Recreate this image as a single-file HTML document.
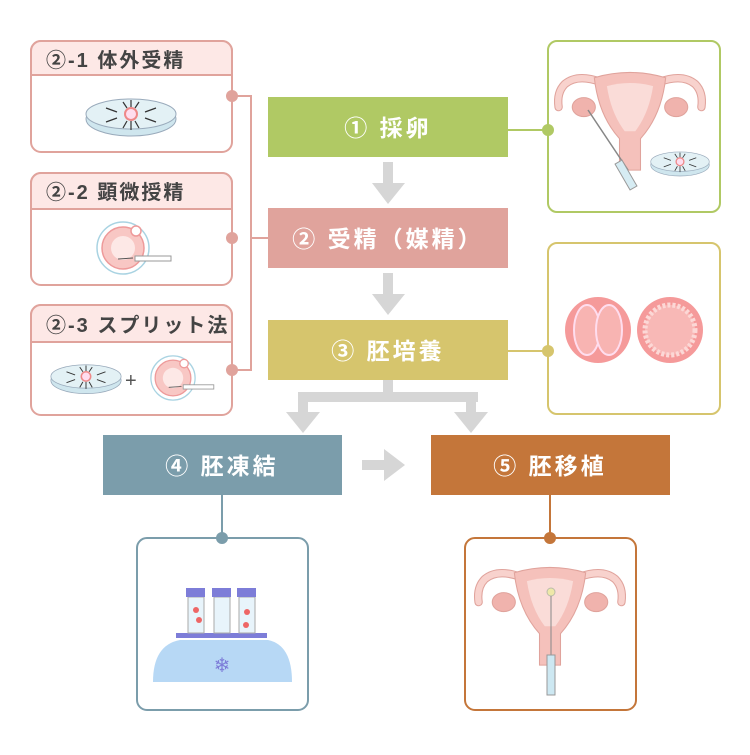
<!DOCTYPE html>
<html><head><meta charset="utf-8"><style>
body{margin:0;background:#fff;}
svg text{font-family:"Liberation Sans","Noto Sans CJK JP",sans-serif;}
</style></head><body>
<svg width="750" height="750" viewBox="0 0 750 750" xmlns="http://www.w3.org/2000/svg">
<defs>
<g id="dish">
<ellipse cx="0" cy="3" rx="45" ry="17" fill="#cfe6ee" stroke="#9ab"/>
<ellipse cx="0" cy="-2" rx="45" ry="15" fill="#e3f1f5" stroke="#9ab"/>
<circle cx="0" cy="-2" r="6" fill="#fde" stroke="#e88" stroke-width="2"/>
<g stroke="#333" stroke-width="1.2">
<line x1="-25" y1="-8" x2="-14" y2="-4"/><line x1="25" y1="-8" x2="14" y2="-4"/>
<line x1="-25" y1="6" x2="-14" y2="2"/><line x1="25" y1="6" x2="14" y2="2"/>
<line x1="-8" y1="-14" x2="-4" y2="-8"/><line x1="8" y1="-14" x2="4" y2="-8"/>
<line x1="-8" y1="12" x2="-4" y2="5"/><line x1="8" y1="12" x2="4" y2="5"/>
<line x1="0" y1="-16" x2="0" y2="-9"/><line x1="0" y1="14" x2="0" y2="5"/>
</g></g>
<g id="egg">
<circle cx="0" cy="0" r="26" fill="#fff" stroke="#a9d3e2" stroke-width="1.5"/>
<circle cx="0" cy="0" r="21" fill="#f8c7c4" stroke="#ee9a9a" stroke-width="1.5"/>
<circle cx="0" cy="0" r="12" fill="#fde8e6"/>
<circle cx="13" cy="-17" r="5" fill="#fff" stroke="#ee9a9a" stroke-width="1.5"/>
<rect x="12" y="8" width="36" height="5" fill="#fff" stroke="#999"/>
<line x1="-5" y1="11" x2="10" y2="10" stroke="#555"/>
</g>
<g id="uterus">
<path d="M-28,-22 Q-50,-30 -62,-20 Q-70,-12 -68,2" fill="none" stroke="#e0a39c" stroke-width="8" stroke-linecap="round"/>
<path d="M-28,-22 Q-50,-30 -62,-20 Q-70,-12 -68,2" fill="none" stroke="#f8d2cd" stroke-width="6" stroke-linecap="round"/>
<path d="M28,-22 Q50,-30 62,-20 Q70,-12 68,2" fill="none" stroke="#e0a39c" stroke-width="8" stroke-linecap="round"/>
<path d="M28,-22 Q50,-30 62,-20 Q70,-12 68,2" fill="none" stroke="#f8d2cd" stroke-width="6" stroke-linecap="round"/>
<ellipse cx="-44" cy="2" rx="11" ry="9" fill="#f0b3ad" stroke="#e0a39c"/>
<ellipse cx="44" cy="2" rx="11" ry="9" fill="#f0b3ad" stroke="#e0a39c"/>
<path d="M-34,-26 Q0,-36 34,-26 Q30,10 10,32 L10,62 L-10,62 L-10,32 Q-30,10 -34,-26Z" fill="#f5c1bb" stroke="#e0a39c"/>
<path d="M-22,-18 Q0,-24 22,-18 Q18,8 5,25 L-5,25 Q-18,8 -22,-18Z" fill="#fadcd8"/>
</g>
</defs>

<!-- Left boxes -->
<g stroke="#e0a39c" stroke-width="2">
<rect x="31" y="41" width="201" height="111" rx="10" fill="#fff"/>
<path d="M31,75 V51 a10,10 0 0 1 10,-10 H222 a10,10 0 0 1 10,10 V75 Z" fill="#fde8e6"/>
<rect x="31" y="173" width="201" height="112" rx="10" fill="#fff"/>
<path d="M31,209 V183 a10,10 0 0 1 10,-10 H222 a10,10 0 0 1 10,10 V209 Z" fill="#fde8e6"/>
<rect x="31" y="305" width="201" height="110" rx="10" fill="#fff"/>
<path d="M31,342 V315 a10,10 0 0 1 10,-10 H222 a10,10 0 0 1 10,10 V342 Z" fill="#fde8e6"/>
<path d="M232,96 H251 V370 H232 M251,238 H268" fill="none"/>
</g>
<g fill="#e0a39c"><circle cx="232" cy="96" r="6"/><circle cx="232" cy="238" r="6"/><circle cx="232" cy="370" r="6"/></g>
<g font-size="20" font-weight="bold" fill="#444" letter-spacing="2">
<text x="46" y="67">②-1 体外受精</text>
<text x="46" y="199">②-2 顕微授精</text>
<text x="46" y="332">②-3 スプリット法</text>
</g>
<use href="#dish" transform="translate(131,116)"/>
<use href="#egg" transform="translate(123,248)"/>
<use href="#dish" transform="translate(86,378) scale(0.78)"/>
<text x="125" y="387" font-size="20" fill="#555">+</text>
<use href="#egg" transform="translate(173,378) scale(0.85)"/>

<!-- main boxes -->
<rect x="268" y="97" width="240" height="60" fill="#b0c964"/>
<rect x="268" y="208" width="240" height="60" fill="#e0a39c"/>
<rect x="268" y="320" width="240" height="60" fill="#d6c56d"/>
<rect x="103" y="435" width="239" height="60" fill="#7b9dab"/>
<rect x="431" y="435" width="239" height="60" fill="#c4763a"/>
<g font-size="23" font-weight="bold" fill="#fff" letter-spacing="3" text-anchor="middle">
<text x="388" y="136">① 採卵</text>
<text x="388" y="247">② 受精（媒精）</text>
<text x="388" y="359">③ 胚培養</text>
<text x="222" y="474">④ 胚凍結</text>
<text x="550" y="474">⑤ 胚移植</text>
</g>

<!-- arrows -->
<g fill="#d6d6d6">
<rect x="383" y="162" width="10" height="22"/><polygon points="372,183 405,183 388,204"/>
<rect x="383" y="273" width="10" height="22"/><polygon points="372,294 405,294 388,315"/>
<rect x="383" y="380" width="10" height="14"/>
<rect x="298" y="392" width="180" height="10"/>
<rect x="298" y="392" width="10" height="22"/><polygon points="286,412 320,412 303,433"/>
<rect x="466" y="392" width="10" height="22"/><polygon points="454,412 488,412 471,433"/>
<rect x="362" y="460" width="24" height="10"/><polygon points="384,449 384,481 405,465"/>
</g>

<!-- right boxes -->
<path d="M508,130 H548" stroke="#b0c964" stroke-width="2"/>
<rect x="548" y="41" width="172" height="171" rx="9" fill="#fff" stroke="#b0c964" stroke-width="2"/>
<circle cx="548" cy="130" r="6" fill="#b0c964"/>
<use href="#uterus" transform="translate(630,105) scale(1.05)"/>
<line x1="588" y1="110" x2="628" y2="170" stroke="#888" stroke-width="1.5"/>
<rect x="622" y="160" width="8" height="30" fill="#d6ecf3" stroke="#999" transform="rotate(-30 626 175)"/>
<use href="#dish" transform="translate(680,163) scale(0.65)"/>

<path d="M508,351 H548" stroke="#d6c56d" stroke-width="2"/>
<rect x="548" y="243" width="172" height="171" rx="9" fill="#fff" stroke="#d6c56d" stroke-width="2"/>
<circle cx="548" cy="351" r="6" fill="#d6c56d"/>
<circle cx="598" cy="330" r="33" fill="#f59a9a"/>
<ellipse cx="587" cy="330" rx="13" ry="25" fill="#f8b4b2" stroke="#fde" stroke-width="2"/>
<ellipse cx="609" cy="330" rx="13" ry="25" fill="#f8b4b2" stroke="#fde" stroke-width="2"/>
<circle cx="670" cy="330" r="33" fill="#f59a9a"/>
<circle cx="670" cy="330" r="25" fill="#f8b8b6" stroke="#fcd8d6" stroke-width="5" stroke-dasharray="3 2"/>

<!-- bottom boxes -->
<path d="M222,495 V538" stroke="#7b9dab" stroke-width="2"/>
<rect x="137" y="538" width="171" height="172" rx="10" fill="#fff" stroke="#7b9dab" stroke-width="2"/>
<circle cx="222" cy="538" r="6" fill="#7b9dab"/>
<path d="M153,682 Q153,645 180,640 H268 Q292,645 292,682 Z" fill="#b7d8f5"/>
<rect x="176" y="633" width="91" height="5" fill="#7d7dd8"/>
<g fill="#e8f4fb" stroke="#aaa">
<rect x="188" y="597" width="16" height="36"/><rect x="214" y="597" width="16" height="36"/><rect x="239" y="597" width="16" height="36"/></g>
<g fill="#7d7dd8"><rect x="186" y="588" width="19" height="9"/><rect x="212" y="588" width="19" height="9"/><rect x="237" y="588" width="19" height="9"/></g>
<g fill="#e66"><circle cx="196" cy="610" r="3"/><circle cx="199" cy="620" r="3"/><circle cx="247" cy="612" r="3"/><circle cx="246" cy="625" r="3"/></g>
<text x="222" y="672" font-size="20" fill="#7d7dd8" text-anchor="middle">❄</text>

<path d="M550,495 V538" stroke="#c4763a" stroke-width="2"/>
<rect x="465" y="538" width="171" height="172" rx="10" fill="#fff" stroke="#c4763a" stroke-width="2"/>
<circle cx="550" cy="538" r="6" fill="#c4763a"/>
<use href="#uterus" transform="translate(550,600) scale(1.05)"/>
<circle cx="551" cy="592" r="4" fill="#eee8a8" stroke="#bba"/>
<line x1="551" y1="596" x2="551" y2="655" stroke="#888"/>
<rect x="547" y="655" width="8" height="40" fill="#cde8f2" stroke="#999"/>
</svg>
</body></html>
